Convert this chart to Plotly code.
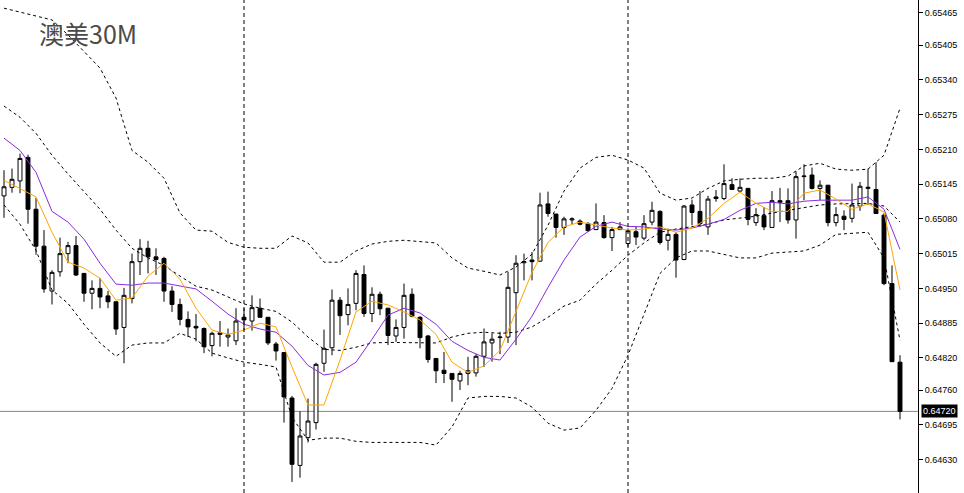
import plotly.graph_objects as go

# ---- data (prices) ----
title_text = "澳美30M"

open_ = [0.65123,0.65139,0.65151,0.65195,0.65098,0.65029,0.64945,0.64981,0.65015,0.65030,
         0.64978,0.64941,0.64950,0.64936,0.64925,0.64877,0.64931,0.65000,0.65025,0.65009,
         0.65006,0.64945,0.64920,0.64892,0.64879,0.64875,0.64843,0.64864,0.64859,0.64852,
         0.64896,0.64889,0.64913,0.64896,0.64846,0.64830,0.64745,0.64619,0.64671,0.64699,
         0.64810,0.64839,0.64928,0.64901,0.64922,0.64976,0.64903,0.64939,0.64913,0.64861,
         0.64877,0.64939,0.64896,0.64861,0.64819,0.64797,0.64791,0.64777,0.64791,0.64792,
         0.64823,0.64848,0.64858,0.64859,0.64942,0.64998,0.65003,0.65001,0.65108,0.65089,
         0.65064,0.65078,0.65076,0.65071,0.65060,0.65073,0.65045,0.65060,0.65034,0.65056,
         0.65044,0.65074,0.65094,0.65040,0.65051,0.65004,0.65106,0.65094,0.65065,0.65121,
         0.65118,0.65144,0.65132,0.65137,0.65073,0.65086,0.65064,0.65114,0.65114,0.65078,
         0.65159,0.65162,0.65137,0.65143,0.65073,0.65085,0.65081,0.65104,0.65137,0.65135,
         0.65087,0.64959,0.64812]
high_ = [0.65171,0.65174,0.65202,0.65200,0.65119,0.65059,0.64984,0.65045,0.65037,0.65048,
         0.64979,0.64965,0.64969,0.64945,0.64926,0.64951,0.65015,0.65042,0.65039,0.65025,
         0.65009,0.64954,0.64931,0.64907,0.64902,0.64877,0.64869,0.64889,0.64875,0.64913,
         0.64913,0.64937,0.64931,0.64896,0.64850,0.64831,0.64749,0.64720,0.64744,0.64811,
         0.64873,0.64948,0.64934,0.64950,0.64984,0.64993,0.64952,0.64944,0.64913,0.64892,
         0.64959,0.64950,0.64898,0.64863,0.64819,0.64831,0.64791,0.64796,0.64822,0.64827,
         0.64875,0.64866,0.64869,0.64981,0.65012,0.65015,0.65018,0.65129,0.65131,0.65089,
         0.65084,0.65083,0.65079,0.65074,0.65109,0.65087,0.65065,0.65074,0.65062,0.65066,
         0.65087,0.65112,0.65096,0.65062,0.65055,0.65106,0.65116,0.65132,0.65123,0.65134,
         0.65182,0.65156,0.65156,0.65138,0.65100,0.65102,0.65132,0.65138,0.65137,0.65169,
         0.65182,0.65176,0.65152,0.65143,0.65102,0.65096,0.65146,0.65149,0.65174,0.65186,
         0.65090,0.64993,0.64825]
low_ = [0.65082,0.65129,0.65128,0.65071,0.65013,0.64942,0.64920,0.64972,0.64997,0.64973,
        0.64925,0.64911,0.64913,0.64913,0.64863,0.64810,0.64922,0.64975,0.64978,0.64975,
        0.64925,0.64906,0.64881,0.64859,0.64851,0.64829,0.64823,0.64841,0.64841,0.64844,
        0.64872,0.64871,0.64896,0.64844,0.64815,0.64699,0.64588,0.64596,0.64662,0.64686,
        0.64794,0.64825,0.64863,0.64881,0.64909,0.64897,0.64887,0.64900,0.64844,0.64850,
        0.64856,0.64896,0.64838,0.64811,0.64773,0.64773,0.64738,0.64760,0.64769,0.64785,
        0.64803,0.64813,0.64827,0.64848,0.64844,0.64965,0.64965,0.65000,0.65084,0.65045,
        0.65050,0.65070,0.65068,0.65056,0.65059,0.65043,0.65020,0.65059,0.65028,0.65031,
        0.65040,0.65068,0.65032,0.65021,0.64970,0.65003,0.65068,0.65065,0.65050,0.65112,
        0.65115,0.65134,0.65131,0.65068,0.65067,0.65059,0.65064,0.65074,0.65071,0.65043,
        0.65115,0.65135,0.65115,0.65066,0.65066,0.65059,0.65073,0.65095,0.65106,0.65090,
        0.64956,0.64813,0.64705]
close_ = [0.65140,0.65154,0.65193,0.65098,0.65029,0.64949,0.64980,0.65015,0.65030,0.64975,
          0.64941,0.64950,0.64934,0.64925,0.64874,0.64937,0.65000,0.65025,0.65009,0.65004,
          0.64945,0.64920,0.64892,0.64878,0.64876,0.64841,0.64866,0.64867,0.64863,0.64889,
          0.64891,0.64914,0.64896,0.64848,0.64833,0.64747,0.64621,0.64674,0.64702,0.64808,
          0.64838,0.64928,0.64899,0.64920,0.64978,0.64903,0.64939,0.64912,0.64862,0.64877,
          0.64937,0.64898,0.64858,0.64817,0.64796,0.64791,0.64780,0.64791,0.64796,0.64823,
          0.64850,0.64855,0.64859,0.64952,0.64997,0.65000,0.65000,0.65106,0.65090,0.65064,
          0.65080,0.65080,0.65070,0.65058,0.65074,0.65045,0.65060,0.65065,0.65058,0.65046,
          0.65071,0.65096,0.65036,0.65051,0.65003,0.65104,0.65092,0.65071,0.65117,0.65118,
          0.65146,0.65135,0.65139,0.65079,0.65088,0.65065,0.65114,0.65111,0.65078,0.65159,
          0.65160,0.65137,0.65143,0.65073,0.65088,0.65079,0.65106,0.65141,0.65139,0.65090,
          0.64959,0.64813,0.64720]

# indicator lines, read at every second bar
line_bars = list(range(0, 113, 2))
bb_upper = [0.65474,0.65467,0.65459,0.65452,0.65424,0.65392,0.65362,0.65306,0.65208,0.65186,
            0.65156,0.65091,0.65059,0.65057,0.65036,0.65027,0.65025,0.65025,0.65048,0.65035,
            0.64999,0.64999,0.65020,0.65033,0.65038,0.65040,0.65038,0.65035,0.65007,0.64988,
            0.64982,0.64975,0.64990,0.65014,0.65068,0.65132,0.65175,0.65195,0.65199,0.65190,
            0.65175,0.65128,0.65115,0.65119,0.65137,0.65151,0.65154,0.65156,0.65156,0.65160,
            0.65179,0.65184,0.65173,0.65171,0.65173,0.65199,0.65287]
bb_middle = [0.65291,0.65270,0.65240,0.65199,0.65164,0.65132,0.65098,0.65059,0.65025,0.65007,
             0.64993,0.64973,0.64954,0.64947,0.64934,0.64921,0.64913,0.64907,0.64887,0.64859,
             0.64836,0.64834,0.64840,0.64848,0.64849,0.64849,0.64849,0.64848,0.64859,0.64866,
             0.64868,0.64866,0.64868,0.64878,0.64896,0.64917,0.64928,0.64958,0.64984,0.65012,
             0.65035,0.65055,0.65061,0.65065,0.65070,0.65078,0.65081,0.65085,0.65091,0.65096,
             0.65102,0.65106,0.65108,0.65108,0.65109,0.65104,0.65074]
bb_lower = [0.65106,0.65070,0.65021,0.64947,0.64922,0.64883,0.64848,0.64823,0.64844,0.64848,
            0.64848,0.64866,0.64855,0.64829,0.64820,0.64812,0.64808,0.64803,0.64709,0.64666,
            0.64670,0.64670,0.64664,0.64662,0.64662,0.64662,0.64662,0.64657,0.64691,0.64745,
            0.64748,0.64748,0.64745,0.64728,0.64698,0.64685,0.64689,0.64722,0.64763,0.64825,
            0.64902,0.64978,0.65007,0.65020,0.65020,0.65014,0.65007,0.65007,0.65016,0.65018,
            0.65020,0.65031,0.65051,0.65053,0.65055,0.65007,0.64853]
ma_slow = [0.65231,0.65208,0.65167,0.65094,0.65074,0.65042,0.64997,0.64958,0.64956,0.64960,
           0.64960,0.64954,0.64949,0.64926,0.64902,0.64883,0.64874,0.64868,0.64842,0.64806,
           0.64788,0.64793,0.64812,0.64855,0.64900,0.64913,0.64904,0.64883,0.64851,0.64834,
           0.64821,0.64816,0.64855,0.64898,0.64952,0.65003,0.65046,0.65066,0.65074,0.65066,
           0.65065,0.65061,0.65059,0.65063,0.65070,0.65079,0.65096,0.65109,0.65111,0.65108,
           0.65113,0.65115,0.65115,0.65115,0.65121,0.65098,0.65023]
ma_fast = [0.65152,0.65137,0.65121,0.65055,0.64999,0.64988,0.64969,0.64928,0.64932,0.64973,
           0.64997,0.64967,0.64913,0.64872,0.64864,0.64872,0.64885,0.64878,0.64803,0.64732,
           0.64732,0.64816,0.64906,0.64926,0.64919,0.64906,0.64891,0.64864,0.64812,0.64793,
           0.64805,0.64834,0.64906,0.64980,0.65036,0.65065,0.65074,0.65068,0.65063,0.65059,
           0.65061,0.65065,0.65055,0.65063,0.65081,0.65109,0.65130,0.65109,0.65094,0.65094,
           0.65128,0.65134,0.65117,0.65098,0.65108,0.65093,0.64947]

separator_bars = [30, 78]
current_price = 0.64720
tick_values = [0.65465,0.65405,0.65340,0.65275,0.65210,0.65145,0.65080,0.65015,
               0.64950,0.64885,0.64820,0.64760,0.64695,0.64630]
tick_labels = ["%.5f" % v for v in tick_values]

bars = list(range(len(open_)))

fig = go.Figure()
fig.add_trace(go.Candlestick(
    x=bars, open=open_, high=high_, low=low_, close=close_,
    increasing=dict(line=dict(color="black", width=1), fillcolor="white"),
    decreasing=dict(line=dict(color="black", width=1), fillcolor="black"),
    whiskerwidth=0, hoverinfo="skip", showlegend=False))

dash_style = "3px,3px"
for ys in (bb_upper, bb_middle, bb_lower):
    fig.add_trace(go.Scatter(x=line_bars, y=ys, mode="lines",
                             line=dict(color="black", width=1, dash=dash_style),
                             hoverinfo="skip", showlegend=False))
fig.add_trace(go.Scatter(x=line_bars, y=ma_slow, mode="lines",
                         line=dict(color="#8a2be2", width=1),
                         hoverinfo="skip", showlegend=False))
fig.add_trace(go.Scatter(x=line_bars, y=ma_fast, mode="lines",
                         line=dict(color="#ffa500", width=1),
                         hoverinfo="skip", showlegend=False))

shapes = []
for b in separator_bars:
    shapes.append(dict(type="line", xref="x", yref="paper", x0=b, x1=b, y0=0, y1=1,
                       line=dict(color="black", width=1, dash="4px,3px"), layer="above"))
shapes.append(dict(type="line", xref="paper", yref="y", x0=0, x1=1,
                   y0=current_price, y1=current_price,
                   line=dict(color="#808890", width=1), layer="below"))

fig.update_layout(
    width=964, height=493,
    margin=dict(l=0, r=46, t=0, b=0),
    paper_bgcolor="white", plot_bgcolor="white",
    boxgap=0.3,
    shapes=shapes,
    showlegend=False,
    xaxis=dict(range=[-0.5, 114.25], visible=False, showgrid=False, zeroline=False,
               rangeslider=dict(visible=False), fixedrange=True),
    yaxis=dict(range=[0.645674, 0.654893], side="right", showgrid=False, zeroline=False,
               showline=True, linecolor="black", linewidth=1, mirror=False,
               ticks="outside", ticklen=4, tickcolor="black", tickwidth=1,
               tickvals=tick_values, ticktext=tick_labels,
               tickfont=dict(family="Liberation Sans, Arial, sans-serif", size=9, color="black"),
               fixedrange=True),
    annotations=[
        dict(text=title_text, xref="paper", yref="paper", x=37/918, y=1-33/493,
             xanchor="left", yanchor="middle", showarrow=False,
             font=dict(family="Noto Sans CJK SC, sans-serif", size=25, color="#4a4a4a")),
        dict(text="%.5f" % current_price, xref="paper", yref="y", x=1, y=current_price,
             xanchor="left", yanchor="middle", xshift=3, showarrow=False,
             bgcolor="black", borderpad=1,
             font=dict(family="Liberation Sans, Arial, sans-serif", size=9, color="white")),
    ],
)

fig.write_html("out.html", config={"displayModeBar": False})

# remove the default page margin so the figure sits at the window origin
with open("out.html", "r", encoding="utf-8") as fh:
    html = fh.read()
html = html.replace("<head>", "<head><style>html,body{margin:0;padding:0;overflow:hidden;}</style>", 1)
with open("out.html", "w", encoding="utf-8") as fh:
    fh.write(html)
